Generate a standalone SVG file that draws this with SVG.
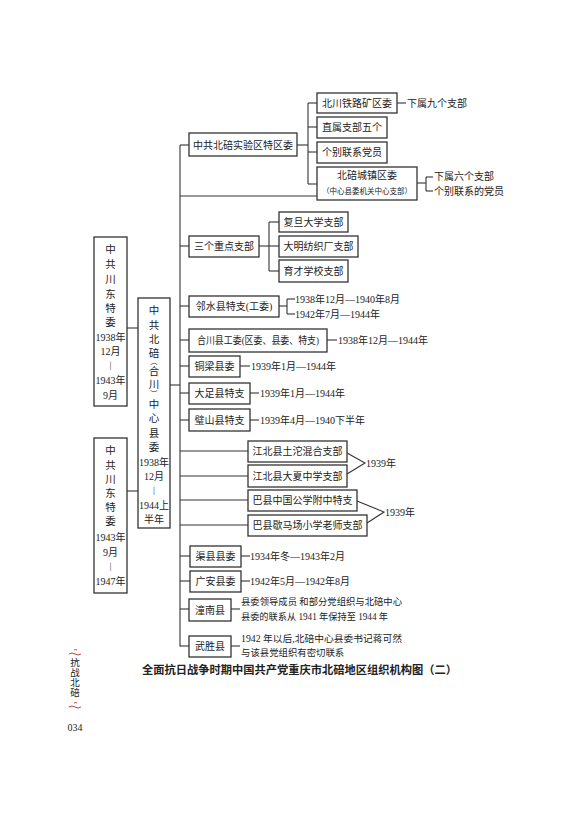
<svg xmlns="http://www.w3.org/2000/svg" width="571" height="816" viewBox="0 0 571 816">
<style>
text{font-family:"Liberation Serif","Noto Sans CJK SC",serif;fill:#222;font-size:10px;dominant-baseline:central}
.c{text-anchor:middle}
.box rect{fill:#fff;stroke:#333;stroke-width:1.3}
#connectors line,#connectors polyline{stroke:#333;stroke-width:1.1;fill:none}
.s{font-size:7.5px}
.t{font-size:11.3px;font-weight:bold}
.v{font-size:10.5px}
.p{font-size:7px}
.n{font-size:9.4px}
.orn{stroke:#b8473d;stroke-width:1;fill:none}
</style>
<rect width="571" height="816" fill="#fff"/>

<g id="connectors">
<line x1="127" y1="328" x2="138" y2="328"/>
<line x1="127" y1="491" x2="138" y2="491"/>
<line x1="170" y1="385" x2="180" y2="385"/>
<line x1="180" y1="145" x2="180" y2="646.5"/>
<line x1="180" y1="145" x2="189" y2="145"/>
<line x1="180" y1="196" x2="317" y2="196"/>
<line x1="180" y1="246" x2="189" y2="246"/>
<line x1="180" y1="306" x2="189" y2="306"/>
<line x1="180" y1="340" x2="189" y2="340"/>
<line x1="180" y1="366" x2="189" y2="366"/>
<line x1="180" y1="393" x2="189" y2="393"/>
<line x1="180" y1="420" x2="189" y2="420"/>
<line x1="180" y1="451" x2="248" y2="451"/>
<line x1="180" y1="476" x2="248" y2="476"/>
<line x1="180" y1="500" x2="248" y2="500"/>
<line x1="180" y1="525" x2="248" y2="525"/>
<line x1="180" y1="556" x2="190" y2="556"/>
<line x1="180" y1="581" x2="190" y2="581"/>
<line x1="180" y1="609" x2="189" y2="609"/>
<line x1="180" y1="646" x2="189" y2="646"/>
<line x1="297" y1="145" x2="308" y2="145"/>
<line x1="308" y1="103" x2="308" y2="184"/>
<line x1="308" y1="103" x2="317" y2="103"/>
<line x1="308" y1="127" x2="317" y2="127"/>
<line x1="308" y1="152" x2="317" y2="152"/>
<line x1="308" y1="184" x2="317" y2="184"/>
<line x1="397" y1="103" x2="406" y2="103"/>
<line x1="417" y1="183" x2="426" y2="183"/>
<line x1="426" y1="177" x2="426" y2="191"/>
<line x1="426" y1="177" x2="433" y2="177"/>
<line x1="426" y1="191" x2="433" y2="191"/>
<line x1="259" y1="246" x2="269" y2="246"/>
<line x1="269" y1="222" x2="269" y2="271"/>
<line x1="269" y1="222" x2="279" y2="222"/>
<line x1="269" y1="246" x2="279" y2="246"/>
<line x1="269" y1="271" x2="279" y2="271"/>
<line x1="279" y1="306" x2="287" y2="306"/>
<line x1="287" y1="299" x2="287" y2="314"/>
<line x1="287" y1="299" x2="295" y2="299"/>
<line x1="287" y1="314" x2="295" y2="314"/>
<line x1="327" y1="340" x2="337" y2="340"/>
<line x1="240" y1="366" x2="250" y2="366"/>
<line x1="250" y1="393" x2="259" y2="393"/>
<line x1="250" y1="420" x2="259" y2="420"/>
<polyline points="347,453 365,463 347,474"/>
<polyline points="357,501 384,512 367,523"/>
<line x1="241" y1="556" x2="250" y2="556"/>
<line x1="241" y1="581" x2="250" y2="581"/>
<line x1="231" y1="609" x2="240" y2="609"/>
<line x1="231" y1="646" x2="240" y2="646"/>
</g>

<g id="n-chuandong1" class="box">
<rect x="94" y="237" width="33" height="169"/>
<text class="c v" x="110.5" y="249">中</text>
<text class="c v" x="110.5" y="264">共</text>
<text class="c v" x="110.5" y="279">川</text>
<text class="c v" x="110.5" y="294">东</text>
<text class="c v" x="110.5" y="308">特</text>
<text class="c v" x="110.5" y="322">委</text>
<text class="c" x="110.5" y="337">1938年</text>
<text class="c" x="110.5" y="351">12月</text>
<text class="c" x="110.5" y="366">︱</text>
<text class="c" x="110.5" y="380">1943年</text>
<text class="c" x="110.5" y="395">9月</text>
</g>

<g id="n-chuandong2" class="box">
<rect x="94" y="438" width="33" height="155"/>
<text class="c v" x="110.5" y="450">中</text>
<text class="c v" x="110.5" y="465">共</text>
<text class="c v" x="110.5" y="479">川</text>
<text class="c v" x="110.5" y="493">东</text>
<text class="c v" x="110.5" y="507">特</text>
<text class="c v" x="110.5" y="521">委</text>
<text class="c" x="110.5" y="537">1943年</text>
<text class="c" x="110.5" y="552">9月</text>
<text class="c" x="110.5" y="567">︱</text>
<text class="c" x="110.5" y="581">1947年</text>
</g>

<g id="n-zhongxin" class="box">
<rect x="138" y="298" width="32" height="230"/>
<text class="c v" x="154" y="310">中</text>
<text class="c v" x="154" y="325">共</text>
<text class="c v" x="154" y="339">北</text>
<text class="c v" x="154" y="353">碚</text>
<text class="c p" x="154" y="362">︵</text>
<text class="c v" x="154" y="371">合</text>
<text class="c v" x="154" y="384">川</text>
<text class="c p" x="154" y="393.5">︶</text>
<text class="c v" x="154" y="404">中</text>
<text class="c v" x="154" y="418">心</text>
<text class="c v" x="154" y="433">县</text>
<text class="c v" x="154" y="447">委</text>
<text class="c" x="154" y="462">1938年</text>
<text class="c" x="154" y="476">12月</text>
<text class="c" x="154" y="491">︱</text>
<text class="c" x="154" y="505">1944上</text>
<text class="c" x="154" y="519">半年</text>
</g>

<g id="n-shiyanqu" class="box">
<rect x="189" y="133" width="108" height="23"/>
<text class="c" x="243" y="145">中共北碚实验区特区委</text>
</g>
<g id="n-beichuan" class="box">
<rect x="317" y="93" width="80" height="20"/>
<text class="c" x="357" y="103">北川铁路矿区委</text>
</g>
<text x="407" y="103">下属九个支部</text>
<g id="n-zhishu" class="box">
<rect x="317" y="117" width="70" height="21"/>
<text class="c" x="352" y="127.5">直属支部五个</text>
</g>
<g id="n-gebie" class="box">
<rect x="317" y="142" width="70" height="21"/>
<text class="c" x="352" y="152.5">个别联系党员</text>
</g>
<g id="n-chengzhen" class="box">
<rect x="317" y="167" width="100" height="33"/>
<text class="c" x="367" y="175.5">北碚城镇区委</text>
<text class="c s" x="367" y="191">（中心县委机关中心支部）</text>
</g>
<text x="434" y="176.5">下属六个支部</text>
<text x="434" y="191">个别联系的党员</text>

<g id="n-sange" class="box">
<rect x="189" y="236" width="70" height="21"/>
<text class="c" x="224" y="246.5">三个重点支部</text>
</g>
<g id="n-fudan" class="box">
<rect x="279" y="212" width="69" height="20"/>
<text class="c" x="313.5" y="222">复旦大学支部</text>
</g>
<g id="n-daming" class="box">
<rect x="279" y="236" width="79" height="21"/>
<text class="c" x="318.5" y="246.5">大明纺织厂支部</text>
</g>
<g id="n-yucai" class="box">
<rect x="279" y="260" width="69" height="22"/>
<text class="c" x="313.5" y="271">育才学校支部</text>
</g>

<g id="n-linshui" class="box">
<rect x="189" y="296" width="90" height="21"/>
<text class="c" x="234" y="306.5">邻水县特支(工委)</text>
</g>
<text x="295" y="299">1938年12月—1940年8月</text>
<text x="295" y="314">1942年7月—1944年</text>

<g id="n-hechuan" class="box">
<rect x="189" y="329" width="138" height="23"/>
<text class="c" x="258" y="340.5" textLength="122" lengthAdjust="spacingAndGlyphs">合川县工委(区委、县委、特支)</text>
</g>
<text x="338" y="340">1938年12月—1944年</text>

<g id="n-tongliang" class="box">
<rect x="189" y="356" width="51" height="21"/>
<text class="c" x="214.5" y="366.5">铜梁县委</text>
</g>
<text x="251" y="366">1939年1月—1944年</text>

<g id="n-dazu" class="box">
<rect x="189" y="383" width="61" height="21"/>
<text class="c" x="219.5" y="393.5">大足县特支</text>
</g>
<text x="260" y="393">1939年1月—1944年</text>

<g id="n-bishan" class="box">
<rect x="189" y="409" width="61" height="22"/>
<text class="c" x="219.5" y="420">璧山县特支</text>
</g>
<text x="260" y="420">1939年4月—1940下半年</text>

<g id="n-jiangbei1" class="box">
<rect x="248" y="441" width="99" height="21"/>
<text class="c" x="297.5" y="451.5">江北县土沱混合支部</text>
</g>
<g id="n-jiangbei2" class="box">
<rect x="248" y="465" width="99" height="22"/>
<text class="c" x="297.5" y="476">江北县大夏中学支部</text>
</g>
<text x="366" y="463">1939年</text>

<g id="n-baxian1" class="box">
<rect x="248" y="490" width="109" height="21"/>
<text class="c" x="302.5" y="500.5">巴县中国公学附中特支</text>
</g>
<g id="n-baxian2" class="box">
<rect x="248" y="515" width="119" height="21"/>
<text class="c" x="307.5" y="525.5">巴县歇马场小学老师支部</text>
</g>
<text x="385" y="512">1939年</text>

<g id="n-quxian" class="box">
<rect x="190" y="546" width="51" height="21"/>
<text class="c" x="215.5" y="556.5">渠县县委</text>
</g>
<text x="250" y="556">1934年冬—1943年2月</text>

<g id="n-guangan" class="box">
<rect x="190" y="571" width="51" height="21"/>
<text class="c" x="215.5" y="581.5">广安县委</text>
</g>
<text x="250" y="581">1942年5月—1942年8月</text>

<g id="n-tongnan" class="box">
<rect x="189" y="599" width="42" height="22"/>
<text class="c" x="210" y="610">潼南县</text>
</g>
<text class="n" x="241" y="602" textLength="161" lengthAdjust="spacingAndGlyphs">县委领导成员 和部分党组织与北碚中心</text>
<text class="n" x="241" y="617" textLength="147" lengthAdjust="spacingAndGlyphs">县委的联系从 1941 年保持至 1944 年</text>

<g id="n-wusheng" class="box">
<rect x="189" y="636" width="42" height="21"/>
<text class="c" x="210" y="646.5">武胜县</text>
</g>
<text class="n" x="241" y="639" textLength="161" lengthAdjust="spacingAndGlyphs">1942 年以后,北碚中心县委书记蒋可然</text>
<text class="n" x="241" y="653">与该县党组织有密切联系</text>

<text class="c t" x="299.5" y="669.5" textLength="315" lengthAdjust="spacingAndGlyphs">全面抗日战争时期中国共产党重庆市北碚地区组织机构图（二）</text>

<g id="margin">
<path class="orn" d="M74 650 q1.5 -1 3 0 M69 654 q3 -2 6 0 t6 0"/>
<text class="c" x="75" y="663" style="font-size:9.5px">抗</text>
<text class="c" x="75" y="673" style="font-size:9.5px">战</text>
<text class="c" x="75" y="683" style="font-size:9.5px">北</text>
<text class="c" x="75" y="693" style="font-size:9.5px">碚</text>
<path class="orn" d="M74 703 q1.5 -1 3 0 M69 707 q3 -2 6 0 t6 0"/>
<text class="c" x="75" y="727" style="font-size:10px">034</text>
</g>
</svg>
